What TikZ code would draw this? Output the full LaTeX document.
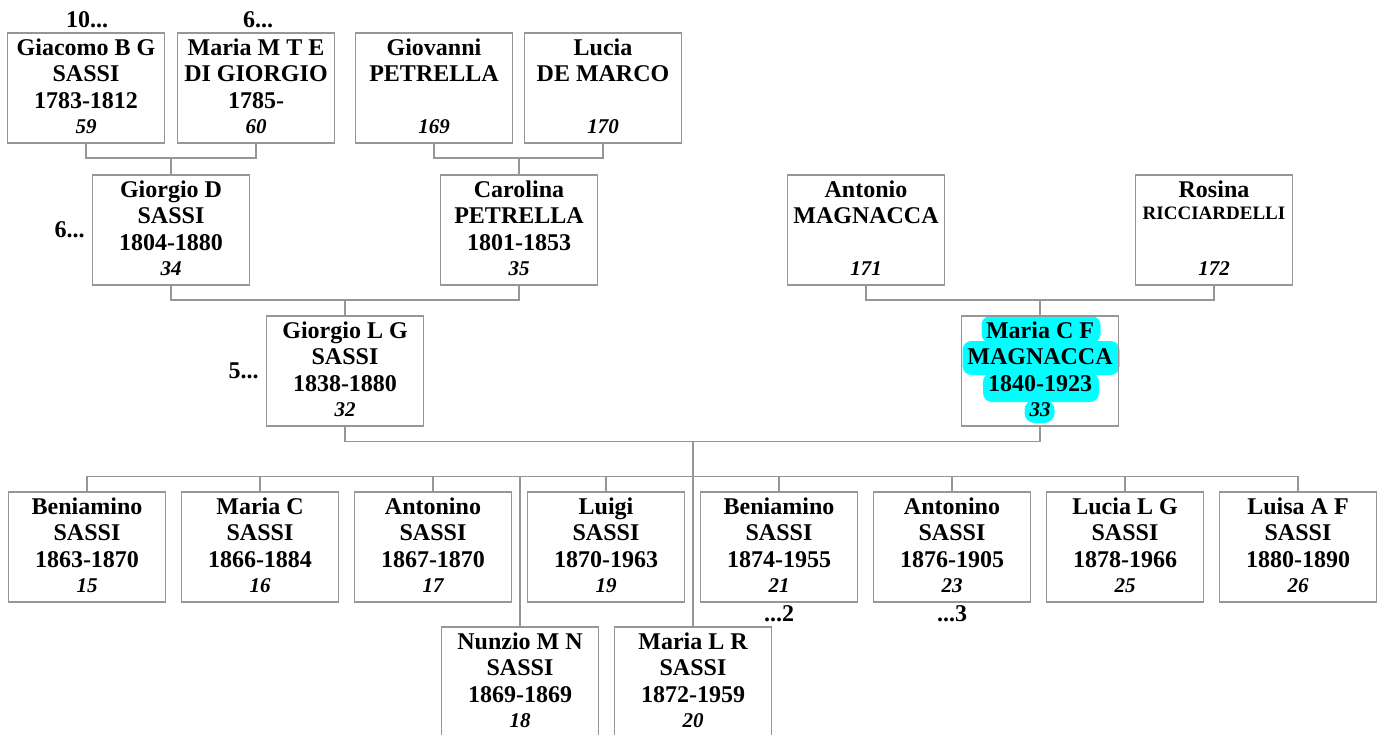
\documentclass[tikz,border=0pt]{standalone}
\usepackage{fontspec}
\setmainfont{Liberation Serif}
\usetikzlibrary{backgrounds}
\definecolor{boxgray}{RGB}{150,150,150}
\definecolor{hlcyan}{RGB}{0,255,255}
\tikzset{
  pbox/.style={draw=boxgray, line width=1.4pt, minimum width=157pt, minimum height=110pt, inner sep=0pt},
  ptxt/.style={anchor=base, inner sep=0pt, font=\fontsize{24}{26}\selectfont\bfseries},
  pnum/.style={anchor=base, inner sep=0pt, font=\fontsize{21}{23}\selectfont\bfseries\itshape},
  conn/.style={draw=boxgray, line width=1.4pt},
  more/.style={inner sep=0pt, font=\fontsize{24}{26}\selectfont\bfseries},
  hl/.style={fill=hlcyan, rounded corners=9pt, inner sep=0pt},
}
\newcommand{\person}[7]{%
  \node[pbox] (#1) at (#2,#3+55) {};
  \node[ptxt] (#1-a) at ([yshift=-23pt]#1.north) {#4};
  \node[ptxt] (#1-b) at ([yshift=-49.5pt]#1.north) {#5};
  \node[ptxt] (#1-c) at ([yshift=-76pt]#1.north) {#6};
  \node[pnum] (#1-d) at ([yshift=-101pt]#1.north) {#7};
}
\begin{document}
\begin{tikzpicture}[x=1pt,y=-1pt]
\useasboundingbox (0,0) rectangle (1382,734);
\begin{scope}[on background layer]
  \fill[white] (0,0) rectangle (1382,734);
  \node[hl, minimum width=119pt, minimum height=27pt] (hl1) at (1041,329.5) {};
  \node[hl, minimum width=157pt, minimum height=34pt] (hl2) at (1041,358) {};
  \node[hl, minimum width=116pt, minimum height=29pt] (hl3) at (1041,387.5) {};
  \node[hl, minimum width=30pt, minimum height=23pt, rounded corners=10pt] (hl4) at (1039.5,411.5) {};
\end{scope}

% row 1
\person{giacomo}{86}{33}{Giacomo B G}{SASSI}{1783-1812}{59}
\person{mariamte}{256}{33}{Maria M T E}{DI GIORGIO}{1785-}{60}
\person{giovanni}{434}{33}{Giovanni}{PETRELLA}{}{169}
\person{lucia}{603}{33}{Lucia}{DE MARCO}{}{170}
% row 2
\person{giorgiod}{171}{175}{Giorgio D}{SASSI}{1804-1880}{34}
\person{carolina}{519}{175}{Carolina}{PETRELLA}{1801-1853}{35}
\person{antonio}{866}{175}{Antonio}{MAGNACCA}{}{171}
\person{rosina}{1214}{175}{Rosina}{\fontsize{19}{21}\selectfont\raisebox{4.5pt}{RICCIARDELLI}}{}{172}
% row 3
\person{giorgiolg}{345}{316}{Giorgio L G}{SASSI}{1838-1880}{32}
\person{mariacf}{1040}{316}{Maria C F}{MAGNACCA}{1840-1923}{33}
% row 4
\person{beniamino}{87}{492}{Beniamino}{SASSI}{1863-1870}{15}
\person{mariac}{260}{492}{Maria C}{SASSI}{1866-1884}{16}
\person{antonino}{433}{492}{Antonino}{SASSI}{1867-1870}{17}
\person{luigi}{606}{492}{Luigi}{SASSI}{1870-1963}{19}
\person{beniaminob}{779}{492}{Beniamino}{SASSI}{1874-1955}{21}
\person{antoninob}{952}{492}{Antonino}{SASSI}{1876-1905}{23}
\person{lucialg}{1125}{492}{Lucia L G}{SASSI}{1878-1966}{25}
\person{luisaaf}{1298}{492}{Luisa A F}{SASSI}{1880-1890}{26}
% row 5
\person{nunzio}{520}{627}{Nunzio M N}{SASSI}{1869-1869}{18}
\person{marialr}{693}{627}{Maria L R}{SASSI}{1872-1959}{20}

% ellipsis labels
\node[more] (up1) at (87,20) {10...};
\node[more] (up2) at (258,20) {6...};
\node[more, anchor=east] (up3) at ([xshift=-7pt]giorgiod.west) {6...};
\node[more, anchor=east] (up4) at ([xshift=-7pt]giorgiolg.west) {5...};
\node[more] (dn1) at (779,614) {...2};
\node[more] (dn2) at (952,614) {...3};

% connectors
\coordinate (j1) at (171,158);
\coordinate (j2) at (519,158);
\coordinate (j3) at (345,300);
\coordinate (j4) at (1040,300);
\coordinate (j5) at (693,441.5);
\coordinate (bar) at (693,476.5);
\draw[conn] (giacomo.south) |- (j1) -| (mariamte.south);
\draw[conn] (j1) -- (giorgiod.north);
\draw[conn] (giovanni.south) |- (j2) -| (lucia.south);
\draw[conn] (j2) -- (carolina.north);
\draw[conn] (giorgiod.south) |- (j3) -| (carolina.south);
\draw[conn] (j3) -- (giorgiolg.north);
\draw[conn] (antonio.south) |- (j4) -| (rosina.south);
\draw[conn] (j4) -- (mariacf.north);
\draw[conn] (giorgiolg.south) |- (j5) -| (mariacf.south);
\draw[conn] (j5) -- (marialr.north);
\draw[conn] (beniamino.north) -- (beniamino.north |- bar) -| (luisaaf.north);
\foreach \c in {mariac,antonino,luigi,beniaminob,antoninob,lucialg,nunzio}
  \draw[conn] (\c.north) -- (\c.north |- bar);
\end{tikzpicture}
\end{document}
